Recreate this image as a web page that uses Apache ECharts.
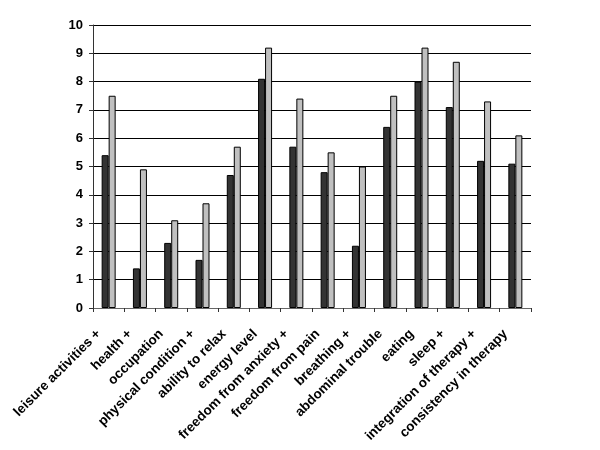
<!DOCTYPE html>
<html><head><meta charset="utf-8">
<script src="https://cdn.jsdelivr.net/npm/echarts@6/dist/echarts.min.js"></script>
<style>html,body{margin:0;padding:0;background:#fff}#c{width:600px;height:450px}</style>
</head><body><div id="c"></div>
<script>
const categories = ["leisure activities +","health +","occupation","physical condition +","ability to relax","energy level","freedom from anxiety +","freedom from pain","breathing +","abdominal trouble","eating","sleep +","integration of therapy +","consistency in therapy"];
const seriesA = [5.4,1.4,2.3,1.7,4.7,8.1,5.7,4.8,2.2,6.4,8.0,7.1,5.2,5.1];
const seriesB = [7.5,4.9,3.1,3.7,5.7,9.2,7.4,5.5,5.0,7.5,9.2,8.7,7.3,6.1];
const yTicks = [0,1,2,3,4,5,6,7,8,9,10];

const chart = echarts.init(document.getElementById('c'), null, {renderer:'canvas'});
chart.setOption({
  animation:false,
  backgroundColor:'#fff',
  grid:{left:93,right:69,top:25,bottom:142,containLabel:false},
  xAxis:{type:'category',data:categories,
    axisLine:{lineStyle:{color:'#666',width:1}},
    axisTick:{show:true,alignWithLabel:false,length:4,lineStyle:{color:'#333'}},
    axisLabel:{rotate:45,interval:0,margin:14,padding:[0,14,0,0],color:'#000',fontFamily:'Liberation Sans, Arial',fontWeight:'bold',fontSize:13.5}
  },
  yAxis:{type:'value',min:yTicks[0],max:yTicks[yTicks.length-1],interval:1,
    axisLine:{show:true,lineStyle:{color:'#333',width:1}},
    axisTick:{show:true,length:4,lineStyle:{color:'#333'}},
    splitLine:{show:true,lineStyle:{color:'#000',width:1}},
    axisLabel:{color:'#000',fontFamily:'Liberation Sans, Arial',fontWeight:'bold',fontSize:13,margin:10}
  },
  series:[
    {type:'bar',data:seriesA,barWidth:7,barGap:'0%',itemStyle:{color:'#333333',borderColor:'#000',borderWidth:1}},
    {type:'bar',data:seriesB,barWidth:7,itemStyle:{color:'#c0c0c0',borderColor:'#000',borderWidth:1}}
  ]
});
</script></body></html>
